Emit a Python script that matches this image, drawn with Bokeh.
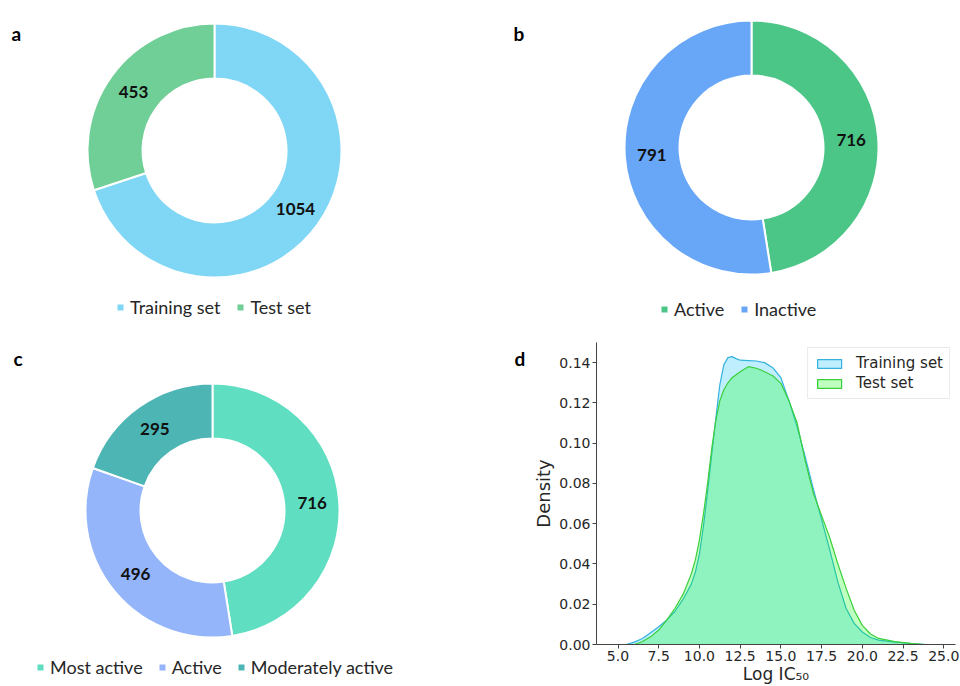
import math
from bokeh.plotting import figure
from bokeh.models import (Range1d, Legend, LegendItem, Label, FixedTicker,
                          NumeralTickFormatter, ColumnDataSource)
from bokeh.layouts import column, row
from bokeh.core.properties import value
from bokeh.embed import file_html
from bokeh.resources import INLINE

# ---------------- data ----------------
a_labels = ["Training set", "Test set"]
a_values = [1054, 453]
a_colors = ["#7fd6f5", "#6fcf97"]

b_labels = ["Active", "Inactive"]
b_values = [716, 791]
b_colors = ["#4cc687", "#68a7f7"]

c_labels = ["Most active", "Active", "Moderately active"]
c_values = [716, 496, 295]
c_colors = ["#5fdec1", "#94b5f9", "#4db6b5"]

train_x = [5.5, 6.0, 6.5, 7.0, 7.5, 8.0, 8.5, 9.0, 9.5, 9.75, 10.0, 10.25, 10.5,
           10.75, 11.0, 11.25, 11.5, 11.75, 12.0, 12.25, 12.5, 13.0, 13.5, 14.0,
           14.5, 15.0, 15.5, 16.0, 16.5, 17.0, 17.5, 18.0, 18.5, 19.0, 19.5,
           20.0, 20.5, 21.0, 22.0, 23.0, 24.0]
train_density = [0.0, 0.0012, 0.003, 0.0058, 0.0088, 0.0122, 0.0165, 0.0225, 0.030,
                 0.036, 0.045, 0.059, 0.076, 0.094, 0.112, 0.129, 0.139, 0.1425,
                 0.143, 0.142, 0.1412, 0.141, 0.1408, 0.140, 0.1375, 0.1325, 0.121,
                 0.108, 0.093, 0.077, 0.062, 0.047, 0.031, 0.018, 0.0105, 0.0062,
                 0.0035, 0.0022, 0.0012, 0.0005, 0.0]

test_x = [6.0, 6.5, 7.0, 7.5, 8.0, 8.5, 9.0, 9.5, 9.75, 10.0, 10.25, 10.5, 10.75,
          11.0, 11.25, 11.5, 11.75, 12.0, 12.5, 13.0, 13.5, 14.0, 14.5, 15.0, 15.5,
          16.0, 16.5, 17.0, 17.5, 18.0, 18.5, 19.0, 19.5, 20.0, 20.5, 21.0, 22.0,
          23.0, 23.8]
test_density = [0.0, 0.0015, 0.0038, 0.0072, 0.0122, 0.018, 0.025, 0.035, 0.042,
                0.052, 0.065, 0.080, 0.097, 0.111, 0.121, 0.1265, 0.130, 0.1325,
                0.1355, 0.138, 0.1372, 0.1355, 0.1335, 0.1297, 0.121, 0.110, 0.091,
                0.075, 0.064, 0.053, 0.040, 0.028, 0.017, 0.0095, 0.0052, 0.0030,
                0.0014, 0.0006, 0.0]

x_ticks = [5.0, 7.5, 10.0, 12.5, 15.0, 17.5, 20.0, 22.5, 25.0]
y_ticks = [0.0, 0.02, 0.04, 0.06, 0.08, 0.10, 0.12, 0.14]

PIE_FONT = "Lato"
TXT = "#262626"


def blank(w, h):
    p = figure(width=w, height=h, x_range=Range1d(0, w), y_range=Range1d(0, h),
               output_backend="svg", toolbar_location=None, min_border=0)
    p.frame_align = False
    p.axis.visible = False
    p.grid.visible = False
    p.outline_line_color = None
    return p


def letter(p, xy, txt):
    p.add_layout(Label(x=xy[0], y=xy[1], text=txt, text_font=PIE_FONT,
                       text_font_style="bold", text_font_size="19px",
                       text_color="#000000", text_baseline="alphabetic"))


def donut(values, labels, colors, w, h, cx, cy, let, letter_xy, legend_xy,
          spacing=16):
    p = blank(w, h)
    total = float(sum(values))
    starts, ends, lx, ly, txt = [], [], [], [], []
    cum = 0.0
    for v in values:
        s = math.radians(90 - 360 * cum / total)
        cum += v
        e = math.radians(90 - 360 * cum / total)
        m = (s + e) / 2
        starts.append(s)
        ends.append(e)
        lx.append(cx + 100 * math.cos(m))
        ly.append(cy + 100 * math.sin(m))
        txt.append(str(v))
    src = ColumnDataSource(dict(start=starts, end=ends, color=colors, label=labels,
                                lx=lx, ly=ly, txt=txt))
    r = p.annular_wedge(x=cx, y=cy, inner_radius=72, outer_radius=127,
                        start_angle="start", end_angle="end", direction="clock",
                        fill_color="color", line_color="white", line_width=2,
                        source=src)
    p.text(x="lx", y="ly", text="txt", source=src, text_align="center",
           text_baseline="middle", text_font=value(PIE_FONT),
           text_font_style="bold", text_font_size="17px", text_color="#111111")
    items = [LegendItem(label=lab, renderers=[r], index=i)
             for i, lab in enumerate(labels)]
    leg = Legend(items=items, orientation="horizontal", location=legend_xy,
                 glyph_width=10, glyph_height=10, label_standoff=5,
                 spacing=spacing, padding=0, margin=0, border_line_color=None,
                 background_fill_alpha=0, label_text_font=PIE_FONT,
                 label_text_font_size="18px", label_text_color=TXT,
                 label_height=20)
    p.add_layout(leg)
    letter(p, letter_xy, let)
    return p


pa = donut(a_values, a_labels, a_colors, 480, 330, 214, 180, "a", (11, 297),
           (115, 12), spacing=15)
pb = donut(b_values, b_labels, b_colors, 480, 330, 271, 183, "b", (33, 297),
           (179, 10), spacing=15)
pc = donut(c_values, c_labels, c_colors, 480, 356, 212, 176, "c", (13, 328),
           (35, 8), spacing=14)

# ---------------- panel d ----------------
dl = blank(50, 356)
letter(dl, (34, 328), "d")

pd_ = figure(width=430, height=356, x_range=Range1d(3.68, 25.72),
             y_range=Range1d(0, 0.15), output_backend="svg",
             toolbar_location=None, min_border_left=58, min_border_right=5,
             min_border_top=12, min_border_bottom=39)
pd_.frame_align = False
pd_.grid.visible = False
pd_.outline_line_color = None

tr_px = list(train_x) + list(reversed(train_x))
tr_py = list(train_density) + [0.0] * len(train_x)
te_px = list(test_x) + list(reversed(test_x))
te_py = list(test_density) + [0.0] * len(test_x)

r_tr = pd_.patch(tr_px, tr_py, fill_color="#00bfff", fill_alpha=0.25,
                 line_color="#35b2dd", line_width=1.2)
r_te = pd_.patch(te_px, te_py, fill_color="#00ff00", fill_alpha=0.25,
                 line_color="#3ccf3c", line_width=1.2)

for ax in (pd_.xaxis[0], pd_.yaxis[0]):
    ax.axis_line_color = "#444444"
    ax.major_tick_line_color = "#444444"
    ax.major_tick_out = 4
    ax.major_tick_in = 0
    ax.minor_tick_line_color = None
    ax.major_label_text_font = "DejaVu Sans"
    ax.major_label_text_font_size = "14px"
    ax.major_label_text_color = TXT
    ax.major_label_standoff = 2
    ax.axis_label_text_font = "DejaVu Sans"
    ax.axis_label_text_font_style = "normal"
    ax.axis_label_text_color = TXT

pd_.xaxis.ticker = FixedTicker(ticks=x_ticks)
pd_.xaxis.formatter = NumeralTickFormatter(format="0.0")
pd_.yaxis.ticker = FixedTicker(ticks=y_ticks)
pd_.yaxis.formatter = NumeralTickFormatter(format="0.00")
pd_.xaxis.axis_label = "Log IC\u2085\u2080"
pd_.yaxis.axis_label = "Density"
pd_.xaxis.axis_label_text_font_size = "17px"
pd_.yaxis.axis_label_text_font_size = "18px"
pd_.xaxis.axis_label_standoff = 0
pd_.yaxis.axis_label_standoff = 2

leg_d = Legend(items=[LegendItem(label="Training set", renderers=[r_tr]),
                      LegendItem(label="Test set", renderers=[r_te])],
               location="top_right", glyph_width=30, glyph_height=11,
               label_standoff=12, spacing=2, padding=6, margin=5,
               border_line_color="#d6d6d6", border_line_width=1,
               label_text_font="DejaVu Sans", label_text_font_size="15px",
               label_text_color=TXT, label_height=18)
pd_.add_layout(leg_d)

layout = column(row(pa, pb), row(pc, row(dl, pd_)))

open("out.html", "w").write(file_html(layout, INLINE))
